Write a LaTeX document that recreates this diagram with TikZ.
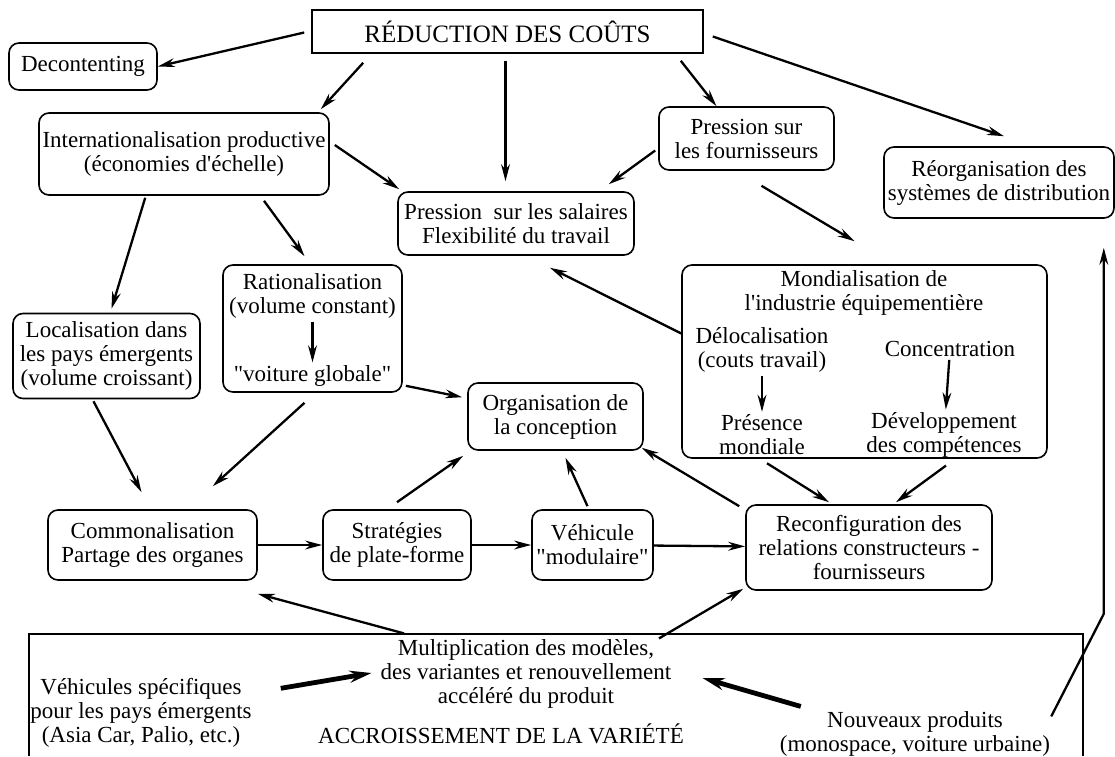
\documentclass[tikz,border=0pt]{standalone}
\usepackage{fontspec}
\setmainfont{Liberation Serif}
\usetikzlibrary{arrows.meta,positioning,calc}

\begin{document}
\begin{tikzpicture}[x=0.5pt, y=-0.5pt, ->, >={Stealth[length=8.5pt,width=4.4pt]}, line width=1.15pt,
  every node/.style={font=\fontsize{11.5}{12}\selectfont, align=center, inner sep=1pt}]
\tikzstyle{box}=[draw, line width=0.8pt, rounded corners=5pt]
\tikzstyle{fat}=[-{Stealth[length=11pt,width=6pt]}, line width=2.4pt]
\useasboundingbox (0,0) rectangle (1115,756);

\node[draw, line width=0.8pt, minimum width=195.5pt, minimum height=21.5pt, font=\fontsize{12.5}{13}\selectfont] (reduc) at (507.5,31.5) {RÉDUCTION DES COÛTS};
\node[box, minimum width=74pt, minimum height=23.5pt]    (decont) at (83,66.5)    {Decontenting};
\node[box, minimum width=145pt, minimum height=41pt]     (intern) at (184,154)    {Internationalisation productive\\(économies d\textquotesingle échelle)};
\node[box, minimum width=87.5pt, minimum height=31.5pt]  (fourn)  at (746.5,138.5) {Pression sur\\les fournisseurs};
\node[box, minimum width=115pt, minimum height=35.5pt]   (reorg)  at (999,182.5)  {Réorganisation des\\systèmes de distribution};
\node[box, minimum width=118pt, minimum height=31.5pt]   (salaires) at (516,223.5) {Pression\ \ sur les salaires\\Flexibilité du travail};

\node[box, minimum width=89.5pt, minimum height=63.5pt]  (ratio)  at (312.5,328.5) {};
\node (rat)  at (312.5,296) {Rationalisation\\(volume constant)};
\node (glob) at (312.5,376) {\textquotedbl voiture globale\textquotedbl};
\node[box, minimum width=93.5pt, minimum height=42.5pt]  (local)  at (106.5,356)  {Localisation dans\\les pays émergents\\(volume croissant)};

\node[box, minimum width=182.5pt, minimum height=96.5pt] (mondial) at (864.5,361.5) {};
\node (mtitle) at (864,293) {Mondialisation de\\l\textquotesingle industrie équipementière};
\node (deloc)  at (762,350) {Délocalisation\\(couts travail)};
\node (conc)   at (950,349) {Concentration};
\node (pres)   at (762,435) {Présence\\mondiale};
\node (devel)  at (944,435) {Développement\\des compétences};

\node[box, minimum width=87.5pt, minimum height=33.5pt]  (orga)   at (555.5,416.5) {Organisation de\\la conception};
\node[box, minimum width=104.5pt, minimum height=35pt]   (common) at (152.5,545)  {Commonalisation\\Partage des organes};
\node[box, minimum width=74pt, minimum height=35pt]      (strat)  at (397,545)    {Stratégies\\de plate-forme};
\node[box, minimum width=60.5pt, minimum height=35pt]    (vehic)  at (592.5,545)  {Véhicule\\\textquotedbl modulaire\textquotedbl};
\node[box, minimum width=123pt, minimum height=42.5pt]   (reconf) at (869,547.5)  {Reconfiguration des\\relations constructeurs -\\fournisseurs};

% cadre du bas
\draw[-, line width=0.8pt] (29,756) -- (29,634) -- (1083,634) -- (1083,756);
\node (multi) at (526,674) {Multiplication des modèles,\\des variantes et renouvellement\\accéléré du produit};
\node (vspec) at (141,713) {Véhicules spécifiques\\pour les pays émergents\\(Asia Car, Palio, etc.)};
\node (accr)  at (501,734) {ACCROISSEMENT DE LA VARIÉTÉ};
\node (nouv)  at (915,734) {Nouveaux produits\\(monospace, voiture urbaine)};

% depuis la reduction des couts
\draw ($(reduc.west)+(-7,1)$) -- (decont.east);
\draw ($(reduc.south west)+(52,9)$) -- ($(intern.north east)+(-9,-3)$);
\draw ($(reduc.south)+(-2,7)$) -- ($(reduc.south |- salaires.north)+(-2,-10)$);
\draw ($(reduc.south east)+(-23,7)$) -- ($(fourn.north)+(-30,0)$);
\draw ($(reduc.east)+(9,5)$) -- ($(reorg.north)+(5,-10)$);

\draw ($(intern.east)+(5,-9)$) -- ($(salaires.north west)+(2,-2)$);
\draw ($(fourn.west)+(-3,12)$) -- ($(salaires.north east)+(-26,-7)$);
\draw ($(fourn.south)+(15,15)$) -- ($(mondial.north)+(-10,-23)$);
\draw ($(intern.south west)+(107,2)$) -- ($(local.north)+(5,-4)$);
\draw ($(intern.south)+(80,5)$) -- ($(ratio.north)+(-8,-8)$);
\draw ($(mondial.west)+(0,-28)$) -- ($(salaires.south)+(34,12)$);

\draw (rat) -- (glob);
\draw (deloc) -- (pres);
\draw (conc) -- (devel);

\draw ($(ratio.south east)+(3,-7)$) -- ($(orga.north west)+(-5,15)$);
\draw ($(local.south)+(-13,2)$) -- ($(common.north)+(-11,-17)$);
\draw ($(ratio.south)+(-8,10)$) -- ($(common.north east)+(-45,-23)$);
\draw ($(strat.north)+(0,-7)$) -- ($(orga.south west)+(-4,5)$);
\draw ($(vehic.north)+(-5,-3)$) -- ($(orga.south)+(10,7)$);
\draw ($(reconf.north west)+(-6,2)$) -- ($(orga.south east)+(-2,-3)$);
\draw ($(pres.south)+(5,5)$) -- ($(reconf.north)+(-40,-2)$);
\draw ($(devel.south)+(2,5)$) -- ($(reconf.north)+(27,-2)$);

\draw (common) -- (strat);
\draw (strat) -- (vehic);
\draw (vehic) -- (reconf);

\draw ($(multi.north)+(-122,-3)$) -- ($(common.south east)+(0,13)$);
\draw ($(multi.north)+(133,2)$) -- ($(reconf.south west)+(-2,-2)$);
\draw[fat] ($(vspec.north east)+(26,13)$) -- ($(multi.west)+(-6,-1)$);
\draw[fat] ($(nouv.north west)+(24,-2)$) -- ($(multi.east)+(28,4)$);
\draw ($(nouv.north east)+(-2,8)$) -- ($(reorg.south east)+(-11,395)$) -- ($(reorg.south east)+(-11,29)$);
\end{tikzpicture}
\end{document}
